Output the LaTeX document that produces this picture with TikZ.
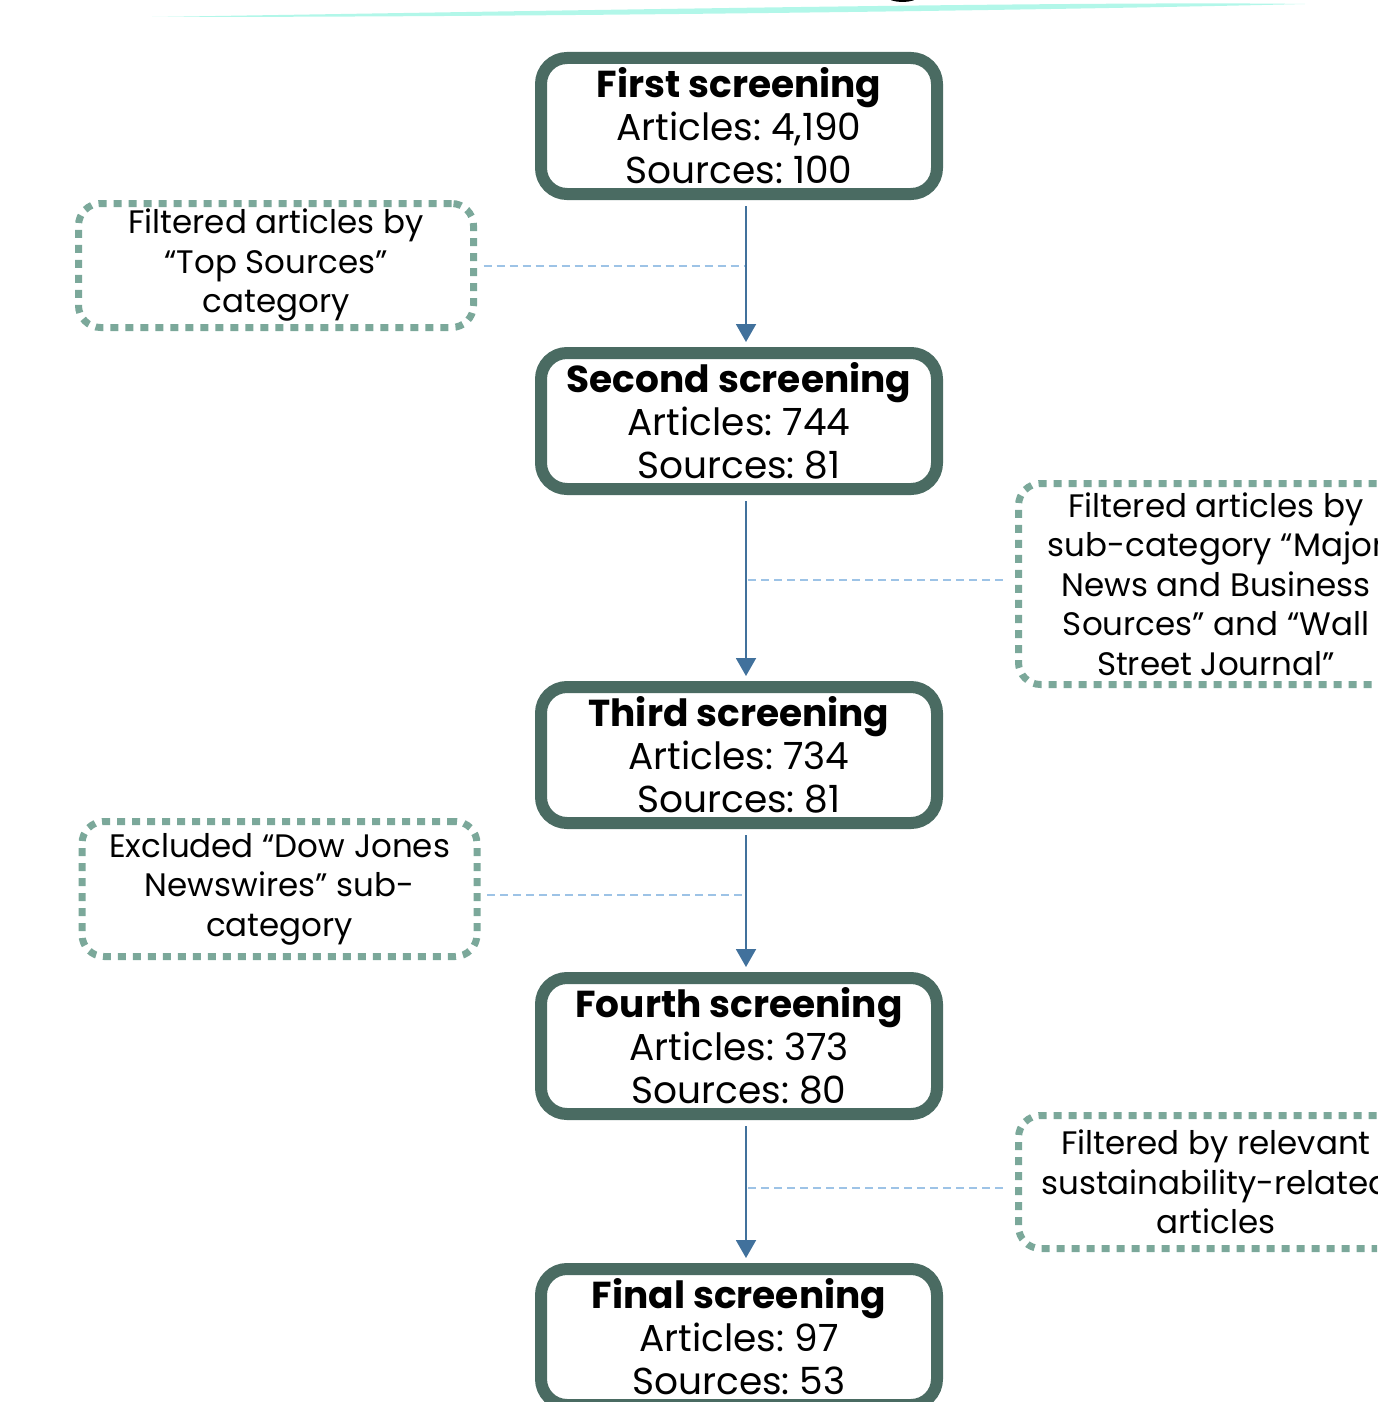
\documentclass[tikz,border=0pt]{standalone}
\usepackage{fontspec}
\setmainfont{Poppins}
\usetikzlibrary{arrows.meta}
\definecolor{boxc}{HTML}{4A6B62}
\definecolor{dotc}{HTML}{7BA89A}
\definecolor{arrc}{HTML}{41719C}
\definecolor{dashc}{HTML}{9DC3E6}
\definecolor{cyanc}{HTML}{B2F7E9}
\frenchspacing
\newcommand{\ttlfont}{\fontsize{37.5}{43}\selectfont\bfseries}
\tikzset{
  mainbox/.style={draw=boxc, line width=12pt, rounded corners=26pt, minimum width=396pt,
    minimum height=136pt, inner sep=0pt, outer sep=0pt, align=center, fill=white,
    font=\fontsize{37.5}{43}\selectfont},
  notebox/.style={draw=dotc, line width=7pt, dash pattern=on 8pt off 7pt, rounded corners=22pt,
    minimum width=395pt, inner sep=0pt, outer sep=0pt, align=center, fill=white,
    font=\fontsize{32.5}{39.5}\selectfont},
  flow/.style={draw=arrc, line width=2pt, -{Triangle[width=20pt,length=18pt]},
    shorten <=12pt, shorten >=11pt},
  link/.style={draw=dashc, line width=1.3pt, dash pattern=on 8pt off 5pt}
}
\begin{document}
\begin{tikzpicture}[x=1pt,y=-1pt]
\useasboundingbox (0,0) rectangle (1377,1402);
\clip (0,0) rectangle (1377,1402);
% title remnants
\fill[cyanc] (152,17) .. controls (600,10) and (1100,1) .. (1305,4)
  .. controls (1100,9) and (600,17) .. cycle;
\fill[black] (885,-4) .. controls (890,4) and (915,4) .. (920,-4) -- cycle;

\node[mainbox] (s1) at (739,126) {{\ttlfont First screening}\\Articles: 4,190\\Sources: 100};
\node[mainbox] (s2) at (739,421) {{\ttlfont Second screening}\\Articles: 744\\Sources: 81};
\node[mainbox] (s3) at (739,755) {{\ttlfont Third screening}\\Articles: 734\\Sources: 81};
\node[mainbox] (s4) at (739,1046) {{\ttlfont Fourth screening}\\Articles: 373\\Sources: 80};
\node[mainbox] (s5) at (739,1337) {{\ttlfont Final screening}\\Articles: 97\\Sources: 53};

\draw[flow] ([xshift=7pt]s1.south) -- ([xshift=7pt]s2.north);
\draw[flow] ([xshift=7pt]s2.south) -- ([xshift=7pt]s3.north);
\draw[flow] ([xshift=7pt]s3.south) -- ([xshift=7pt]s4.north);
\draw[flow] ([xshift=7pt]s4.south) -- ([xshift=7pt]s5.north);

\node[notebox, minimum height=124pt] (n1) at (276,265.5) {Filtered articles by\\“Top Sources”\\category};
\node[notebox, minimum height=201pt] (n2) at (1216,584) {Filtered articles by\\sub-category “Major\\News and Business\\Sources” and “Wall\\Street Journal”};
\node[notebox, minimum height=135pt] (n3) at (279.5,889) {Excluded “Dow Jones\\Newswires” sub-\\category};
\node[notebox, minimum height=133pt] (n4) at (1216,1182) {Filtered by relevant\\sustainability-related\\articles};

\coordinate (j1) at (745,266);
\coordinate (j2) at (748,580);
\coordinate (j3) at (745,895);
\coordinate (j4) at (748,1188);
\draw[link] ([xshift=10pt]n1.east |- j1) -- (j1);
\draw[link] (j2) -- ([xshift=-13pt]n2.west |- j2);
\draw[link] ([xshift=10pt]n3.east |- j3) -- (j3);
\draw[link] (j4) -- ([xshift=-13pt]n4.west |- j4);
\end{tikzpicture}
\end{document}
